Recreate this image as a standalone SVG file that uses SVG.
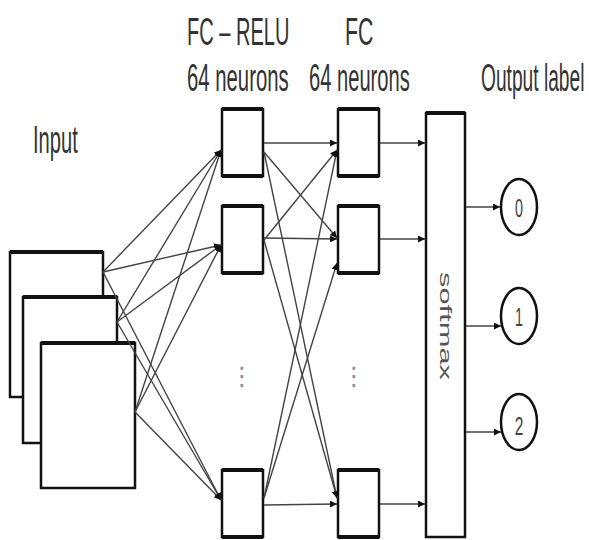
<svg xmlns="http://www.w3.org/2000/svg" width="589" height="540" viewBox="0 0 589 540">
  <style>
    .lbl { font-family: "Liberation Sans", Arial, sans-serif; fill: #333; font-size: 38px; }
    .box { fill: #fff; stroke: #111; stroke-width: 2.5; }
    .edge { stroke: #111; stroke-width: 4; }
    .wire { stroke: #444; stroke-width: 1.4; fill: none; marker-end: url(#head); }
    .out { fill: #fff; stroke: #111; stroke-width: 2.5; }
    .digit { font-family: "Liberation Sans", Arial, sans-serif; fill: #444; font-size: 26px; text-anchor: middle; }
    .dots { font-family: "DejaVu Sans", sans-serif; fill: #8c95a5; font-size: 26px; text-anchor: middle; }
  </style>
  <defs>
    <marker id="head" viewBox="0 0 10 10" refX="10" refY="5" markerWidth="7" markerHeight="7" markerUnits="userSpaceOnUse" orient="auto">
      <path d="M0,0 L10,5 L0,10 z" fill="#111"/>
    </marker>
  </defs>

  <!-- headings (condensed lettering) -->
  <text class="lbl" transform="translate(187,45) scale(0.527,1)">FC – RELU</text>
  <text class="lbl" transform="translate(187,91) scale(0.535,1)">64 neurons</text>
  <text class="lbl" transform="translate(345,45) scale(0.56,1)">FC</text>
  <text class="lbl" transform="translate(309,91) scale(0.53,1)">64 neurons</text>
  <text class="lbl" transform="translate(481,91) scale(0.505,1)">Output label</text>
  <text class="lbl" transform="translate(33,153) scale(0.53,1)">Input</text>

  <!-- input stack -->
  <g id="input-1">
    <rect class="box" x="10" y="252" width="93" height="145"/>
    <line class="edge" x1="10" y1="252" x2="103" y2="252"/>
  </g>
  <g id="input-2">
    <rect class="box" x="23" y="297" width="94" height="146"/>
    <line class="edge" x1="23" y1="297" x2="117" y2="297"/>
  </g>
  <g id="input-3">
    <rect class="box" x="41" y="343" width="94" height="145"/>
    <line class="edge" x1="41" y1="343" x2="135" y2="343"/>
  </g>

  <!-- hidden layer 1 (FC - RELU) -->
  <g id="fc1-a">
    <rect class="box" x="222" y="109" width="41" height="67"/>
    <line class="edge" x1="222" y1="109" x2="263" y2="109"/>
    <line class="edge" x1="222" y1="176" x2="263" y2="176"/>
  </g>
  <g id="fc1-b">
    <rect class="box" x="222" y="206" width="41" height="67"/>
    <line class="edge" x1="222" y1="206" x2="263" y2="206"/>
    <line class="edge" x1="222" y1="273" x2="263" y2="273"/>
  </g>
  <g id="fc1-dots">
    <text class="dots" x="242" y="385">⋮</text>
  </g>
  <g id="fc1-n">
    <rect class="box" x="222" y="470" width="41" height="67"/>
    <line class="edge" x1="222" y1="470" x2="263" y2="470"/>
    <line class="edge" x1="222" y1="537" x2="263" y2="537"/>
  </g>

  <!-- hidden layer 2 (FC) -->
  <g id="fc2-a">
    <rect class="box" x="338" y="109" width="41" height="67"/>
    <line class="edge" x1="338" y1="109" x2="379" y2="109"/>
    <line class="edge" x1="338" y1="176" x2="379" y2="176"/>
  </g>
  <g id="fc2-b">
    <rect class="box" x="338" y="206" width="41" height="67"/>
    <line class="edge" x1="338" y1="206" x2="379" y2="206"/>
    <line class="edge" x1="338" y1="273" x2="379" y2="273"/>
  </g>
  <g id="fc2-dots">
    <text class="dots" x="354" y="385">⋮</text>
  </g>
  <g id="fc2-n">
    <rect class="box" x="338" y="470" width="41" height="67"/>
    <line class="edge" x1="338" y1="470" x2="379" y2="470"/>
    <line class="edge" x1="338" y1="537" x2="379" y2="537"/>
  </g>

  <!-- softmax -->
  <g id="softmax">
    <rect class="box" x="426" y="113" width="39" height="424"/>
    <line class="edge" x1="426" y1="113" x2="465" y2="113"/>
    <text class="lbl" transform="translate(440,272) rotate(90) scale(1.93,1)" style="font-size:16px; fill:#555">softmax</text>
  </g>

  <!-- output labels -->
  <g id="out-0">
    <ellipse class="out" cx="519" cy="207" rx="18" ry="28"/>
    <text class="digit" transform="translate(519,217) scale(0.55,1)">0</text>
  </g>
  <g id="out-1">
    <ellipse class="out" cx="519" cy="316" rx="18" ry="28"/>
    <text class="digit" transform="translate(519,326) scale(0.55,1)">1</text>
  </g>
  <g id="out-2">
    <ellipse class="out" cx="519" cy="422" rx="18" ry="28"/>
    <text class="digit" transform="translate(519,435) scale(0.6,1)">2</text>
  </g>

  <!-- connectors -->
  <g id="connectors">
    <!-- input -> FC-RELU -->
    <line class="wire" x1="103" y1="272" x2="221" y2="150"/>
    <line class="wire" x1="103" y1="272" x2="221" y2="245"/>
    <line class="wire" x1="103" y1="272" x2="221" y2="500"/>
    <line class="wire" x1="117" y1="322" x2="221" y2="150"/>
    <line class="wire" x1="117" y1="322" x2="221" y2="245"/>
    <line class="wire" x1="117" y1="322" x2="221" y2="500"/>
    <line class="wire" x1="135" y1="412" x2="221" y2="150"/>
    <line class="wire" x1="135" y1="412" x2="221" y2="245"/>
    <line class="wire" x1="135" y1="412" x2="221" y2="500"/>
    <!-- FC-RELU -> FC -->
    <line class="wire" x1="264" y1="143" x2="337" y2="143"/>
    <line class="wire" x1="264" y1="152" x2="337" y2="238"/>
    <line class="wire" x1="264" y1="152" x2="337" y2="498"/>
    <line class="wire" x1="264" y1="238" x2="337" y2="239"/>
    <line class="wire" x1="264" y1="240" x2="337" y2="150"/>
    <line class="wire" x1="264" y1="240" x2="337" y2="498"/>
    <line class="wire" x1="264" y1="498" x2="337" y2="150"/>
    <line class="wire" x1="264" y1="498" x2="337" y2="263"/>
    <line class="wire" x1="264" y1="505" x2="337" y2="504"/>
    <!-- FC -> softmax -->
    <line class="wire" x1="380" y1="143" x2="425" y2="143"/>
    <line class="wire" x1="380" y1="239" x2="425" y2="239"/>
    <line class="wire" x1="380" y1="504" x2="425" y2="504"/>
    <!-- softmax -> labels -->
    <line class="wire" x1="466" y1="207" x2="500" y2="207"/>
    <line class="wire" x1="466" y1="326" x2="501" y2="326"/>
    <line class="wire" x1="466" y1="432" x2="501" y2="432"/>
  </g>
</svg>
